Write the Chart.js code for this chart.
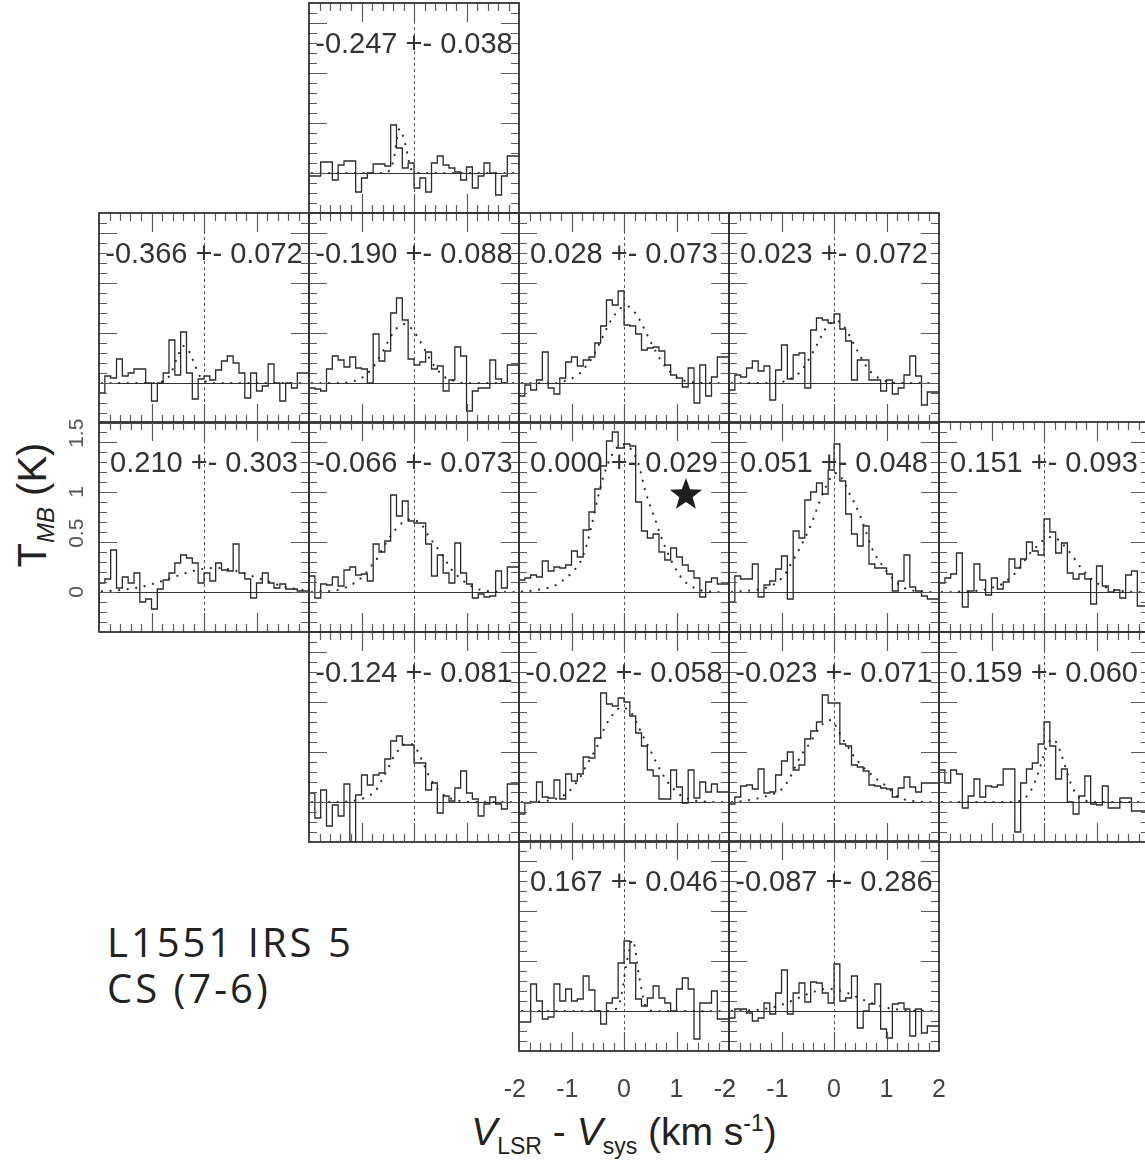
<!DOCTYPE html>
<html><head><meta charset="utf-8">
<script src="https://cdn.jsdelivr.net/npm/chart.js"></script>
<style>
html,body{margin:0;padding:0;background:#fff;}
body{width:1145px;height:1163px;overflow:hidden;position:relative;font-family:'Liberation Sans',Arial,sans-serif;}
canvas{position:absolute;}
.txt{position:absolute;white-space:nowrap;color:#222;}
.src{font-family:'Open Sans','Noto Sans',sans-serif;font-size:40px;line-height:40px;letter-spacing:3px;color:#222;font-weight:400;}
</style></head><body>
<div class="txt src" style="left:107px;top:922px">L1551 IRS 5</div>
<div class="txt src" style="left:107px;top:968px">CS (7-6)</div>
<div class="txt" id="xtitle" style="left:624px;top:1112px;transform:translateX(-50%);font-size:39px;line-height:39px;"><i>V</i><span style="font-size:23px;vertical-align:-9px;line-height:0">LSR</span> - <i>V</i><span style="font-size:23px;vertical-align:-9px;line-height:0">sys</span> (km s<span style="font-size:23px;vertical-align:14px;line-height:0">-1</span>)</div>
<div class="txt" id="ytitle" style="left:32px;top:505px;transform:translate(-50%,-50%) rotate(-90deg);font-size:40px;line-height:40px;">T<span style="font-size:24px;font-style:italic;vertical-align:-8px;line-height:0">MB</span> (K)</div>
<script>
// ---- channel velocities (km/s, channel centres) ----
const velocity = [-1.944,-1.833,-1.722,-1.611,-1.500,-1.389,-1.278,-1.167,-1.056,-0.944,-0.833,-0.722,-0.611,-0.500,-0.389,-0.278,-0.167,-0.056,0.056,0.167,0.278,0.389,0.500,0.611,0.722,0.833,0.944,1.056,1.167,1.278,1.389,1.500,1.611,1.722,1.833,1.944];
const chanWidth = 0.1111;

// ---- observed spectra (T_MB, K) and fitted profiles ----
const obsA = [-0.08,-0.03,-0.03,0.11,0.11,-0.07,0.08,0.12,0.12,-0.19,-0.05,0.00,0.09,0.09,0.07,0.48,0.25,0.05,0.10,-0.15,-0.05,-0.19,0.10,0.17,0.08,0.05,0.01,-0.07,0.06,-0.15,-0.03,0.10,0.00,-0.22,-0.03,0.17];
const fitA = [0,0,0,0,0,0,0,0,0,0,0,0,0,0.01,0.13,0.44,0.29,0.04,0.005,0,0,0,0,0,0,0,0,0,0,0,0,0,0,0,0,0];
const obsB = [0.10,-0.10,0.07,0.05,0.24,0.07,0.10,0.14,0.14,0.00,-0.18,0.00,0.10,0.43,0.08,0.51,0.10,-0.16,0.04,0.07,0.03,0.13,0.22,0.27,0.20,0.10,-0.15,0.10,-0.08,-0.03,0.19,0.00,-0.18,0.00,-0.05,0.10];
const fitB = [0,0,0,0,0,0,0,0,0,0,0.01,0.03,0.12,0.27,0.37,0.31,0.17,0.05,0.01,0,0,0,0,0,0,0,0,0,0,0,0,0,0,0,0,0];
const obsC = [-0.03,-0.05,-0.06,-0.08,0.14,0.27,0.23,0.16,0.26,0.15,0.14,0.00,0.49,0.22,0.32,0.70,0.85,0.63,0.24,0.18,0.21,0.31,0.14,0.17,-0.08,0.03,0.36,0.27,-0.28,-0.08,-0.05,-0.05,0.23,0.04,0.00,0.18];
const fitC = [0,0,0,0,0,0,0.005,0.015,0.035,0.07,0.125,0.20,0.30,0.41,0.51,0.57,0.59,0.55,0.47,0.37,0.26,0.17,0.10,0.05,0.03,0.01,0,0,0,0,0,0,0,0,0,0];
const obsD = [0.15,-0.13,-0.02,-0.07,0.03,0.31,-0.05,-0.11,0.05,0.21,0.26,0.17,0.23,0.26,0.40,0.57,0.83,0.78,0.92,0.58,0.57,0.49,0.33,0.35,0.36,0.32,0.18,0.08,0.05,-0.04,0.15,-0.20,0.18,-0.13,0.06,0.26];
const fitD = [0,0,0,0,0,0,0,0.015,0.03,0.06,0.10,0.17,0.25,0.36,0.48,0.60,0.69,0.75,0.77,0.73,0.65,0.54,0.42,0.31,0.21,0.14,0.08,0.045,0.02,0.01,0,0,0,0,0,0];
const obsE = [0.07,-0.07,0.08,0.06,0.15,0.22,0.12,0.17,-0.17,0.13,0.38,0.04,0.28,0.30,-0.05,0.53,0.65,0.63,0.60,0.69,0.54,0.42,0.03,0.23,0.23,0.03,0.03,-0.08,0.03,-0.11,-0.05,0.08,0.27,0.07,-0.22,-0.09];
const fitE = [0,0,0,0,0,0,0,0,0.007,0.017,0.04,0.074,0.13,0.22,0.32,0.43,0.54,0.60,0.62,0.58,0.49,0.38,0.27,0.17,0.10,0.055,0.027,0.01,0,0,0,0,0,0,0,0];
const obsF = [-0.31,0.09,0.13,0.42,0.04,0.15,0.09,0.19,-0.10,-0.07,-0.17,0.03,0.12,0.19,0.29,0.37,0.34,0.29,0.09,0.19,0.11,0.29,0.22,0.21,0.48,0.19,0.13,-0.06,0.09,0.19,0.09,0.04,0.08,0.03,0.03,0.01];
const fitF = [0.006,0.009,0.013,0.018,0.025,0.033,0.043,0.055,0.069,0.086,0.104,0.123,0.143,0.163,0.183,0.200,0.216,0.228,0.236,0.240,0.239,0.233,0.224,0.210,0.194,0.175,0.155,0.135,0.115,0.096,0.075,0.058,0.044,0.032,0.022,0.015];
const obsG = [0.28,0.16,-0.06,0.08,0.07,0.15,0.06,0.22,0.25,0.17,0.18,0.11,0.48,0.40,0.51,0.97,0.76,0.91,0.71,0.69,0.69,0.48,0.16,0.37,0.19,0.09,0.49,0.19,0.08,-0.06,-0.02,-0.05,-0.04,0.21,0.04,0.25];
const fitG = [0,0.005,0.01,0.01,0.015,0.03,0.05,0.08,0.12,0.17,0.25,0.32,0.42,0.52,0.60,0.67,0.71,0.73,0.71,0.66,0.56,0.48,0.40,0.31,0.22,0.16,0.11,0.07,0.04,0.02,0.01,0.005,0,0,0,0];
const obsH = [0.12,0.12,0.14,0.17,0.15,0.31,0.21,0.25,0.24,0.27,0.41,0.35,0.62,0.80,1.03,1.26,1.51,1.60,1.44,1.48,1.46,0.90,0.61,0.54,0.58,0.40,0.32,0.44,0.35,0.27,0.21,0.14,-0.05,0.10,0.14,0.08];
const fitH = [0.005,0.01,0.015,0.025,0.035,0.05,0.075,0.115,0.16,0.22,0.30,0.45,0.68,0.94,1.16,1.32,1.42,1.48,1.47,1.40,1.28,1.04,0.86,0.70,0.53,0.39,0.27,0.17,0.10,0.06,0.03,0.012,0.005,0,0,0];
const obsI = [0.19,-0.10,0.16,0.13,0.13,0.28,-0.05,0.07,0.11,0.23,0.36,-0.07,0.61,0.54,0.92,1.00,1.09,0.98,1.22,1.48,1.11,0.78,0.58,0.46,0.66,0.28,0.24,0.24,0.18,0.01,0.11,0.37,0.05,0.01,-0.04,-0.07];
const fitI = [0,0.005,0.01,0.015,0.02,0.03,0.045,0.07,0.11,0.17,0.27,0.37,0.48,0.60,0.74,0.90,1.04,1.15,1.19,1.12,1.00,0.89,0.76,0.60,0.44,0.33,0.25,0.17,0.11,0.055,0.03,0.015,0.008,0.005,0,0];
const obsJ = [-0.07,0.09,0.14,0.18,0.39,-0.15,0.01,0.28,0.12,-0.03,0.14,0.03,0.10,0.33,0.24,0.33,0.50,0.41,0.37,0.73,0.60,0.39,0.49,0.19,0.13,0.18,0.13,-0.12,0.26,0.06,0.00,0.02,-0.06,0.17,0.21,-0.14];
const fitJ = [0,0,0,0.005,0.005,0.008,0.012,0.02,0.03,0.05,0.07,0.11,0.155,0.22,0.30,0.38,0.44,0.50,0.54,0.55,0.52,0.46,0.39,0.31,0.23,0.17,0.11,0.075,0.05,0.03,0.015,0.008,0.003,0,0,0];
const obsK = [0.27,0.09,-0.16,0.12,-0.24,-0.03,-0.14,0.18,-0.45,0.07,0.27,0.17,0.27,0.29,0.43,0.61,0.66,0.57,0.57,0.39,0.39,0.12,0.19,-0.11,0.06,0.01,0.14,0.31,0.09,0.03,-0.14,-0.02,0.05,-0.02,-0.07,0.18];
const fitK = [0,0,0,0,0,0,0.005,0.01,0.025,0.04,0.07,0.12,0.22,0.33,0.45,0.53,0.58,0.58,0.52,0.40,0.27,0.17,0.10,0.055,0.03,0.015,0.005,0,0,0,0,0,0,0,0,0];
const obsL = [0.09,-0.12,-0.01,0.00,0.20,0.05,0.04,0.22,0.03,0.28,0.21,0.28,0.45,0.44,0.64,1.09,0.98,0.96,1.04,1.00,0.86,0.69,0.56,0.32,0.26,0.03,0.03,0.32,0.15,-0.01,0.32,0.04,0.20,0.10,0.18,0.10];
const fitL = [0,0,0.003,0.005,0.01,0.02,0.035,0.06,0.10,0.17,0.25,0.36,0.46,0.57,0.72,0.83,0.90,0.95,0.93,0.87,0.75,0.63,0.52,0.40,0.29,0.20,0.13,0.075,0.045,0.02,0.01,0.005,0,0,0,0];
const obsM = [-0.02,-0.02,0.05,0.16,0.17,0.13,0.33,0.09,0.10,0.27,0.41,0.50,0.32,0.37,0.63,0.71,0.80,1.07,0.99,0.99,0.58,0.56,0.37,0.35,0.31,0.17,0.16,0.14,0.13,0.05,0.14,0.25,0.15,0.10,0.19,0.19];
const fitM = [0,0.005,0.01,0.02,0.03,0.045,0.06,0.08,0.10,0.16,0.25,0.37,0.48,0.56,0.65,0.74,0.80,0.82,0.74,0.63,0.54,0.45,0.38,0.32,0.27,0.22,0.18,0.13,0.07,0.035,0.02,0.01,0.005,0,0,0];
const obsN = [0.13,0.32,0.19,0.32,0.28,-0.06,0.06,0.23,0.05,0.16,0.15,0.17,0.33,0.33,-0.30,0.19,0.33,0.39,0.58,0.80,0.56,0.23,0.33,0.00,-0.12,0.06,0.26,-0.02,-0.03,0.16,-0.06,-0.06,0.04,0.04,-0.09,-0.09];
const fitN = [0,0,0,0,0,0,0,0,0,0,0,0,0,0.006,0.03,0.09,0.21,0.38,0.56,0.63,0.55,0.38,0.20,0.08,0.025,0.008,0,0,0,0,0,0,0,0,0,0];
const obsO = [0.12,-0.11,-0.11,0.27,0.10,-0.08,-0.06,0.27,0.10,0.22,0.10,0.12,0.35,0.21,0.00,-0.13,0.08,0.13,0.48,0.70,0.48,0.12,0.05,0.13,0.25,0.13,0.08,0.00,0.22,0.33,0.22,-0.28,0.08,0.08,0.20,-0.08];
const fitO = [0,0,0,0,0,0,0,0,0,0,0,0,0,0,0,0,0.015,0.14,0.50,0.71,0.38,0.08,0.006,0,0,0,0,0,0,0,0,0,0,0,0,0];
const obsP = [-0.18,-0.07,0.02,0.02,-0.02,-0.10,-0.07,0.08,-0.03,0.18,0.41,-0.03,0.18,0.28,0.09,0.29,0.28,0.18,0.08,0.47,0.10,0.13,0.35,-0.17,0.00,0.07,0.27,-0.18,-0.27,0.07,0.08,0.02,-0.25,0.02,-0.22,-0.15];
const fitP = [0.001,0.002,0.004,0.006,0.01,0.016,0.025,0.037,0.053,0.072,0.095,0.12,0.146,0.17,0.19,0.21,0.22,0.22,0.21,0.197,0.176,0.15,0.126,0.10,0.076,0.056,0.04,0.027,0.018,0.011,0.006,0.004,0.002,0.001,0,0];

// ---- panel annotation texts (fitted centroid velocity +- error) ----
const panelIds    = ['A','B','C','D','E','F','G','H','I','J','K','L','M','N','O','P'];
const panelLabels = ['-0.247 +- 0.038','-0.366 +- 0.072','-0.190 +- 0.088','0.028 +- 0.073','0.023 +- 0.072',
                     '0.210 +- 0.303','-0.066 +- 0.073','0.000 +- 0.029','0.051 +- 0.048','0.151 +- 0.093',
                     '-0.124 +- 0.081','-0.022 +- 0.058','-0.023 +- 0.071','0.159 +- 0.060',
                     '0.167 +- 0.046','-0.087 +- 0.286'];
const obsSeries = {A:obsA,B:obsB,C:obsC,D:obsD,E:obsE,F:obsF,G:obsG,H:obsH,I:obsI,J:obsJ,K:obsK,L:obsL,M:obsM,N:obsN,O:obsO,P:obsP};
const fitSeries = {A:fitA,B:fitB,C:fitC,D:fitD,E:fitE,F:fitF,G:fitG,H:fitH,I:fitI,J:fitJ,K:fitK,L:fitL,M:fitM,N:fitN,O:fitO,P:fitP};

// ---- tick labels ----
const xTickLabels = [-2,-1,0,1,2];
const yTickLabels = ['0','0.5','1','1.5'];
const starPosition = {v:1.18, t:0.97};

// ---- layout (not data) ----
const layoutGrid = {A:[0,1],B:[1,0],C:[1,1],D:[1,2],E:[1,3],F:[2,0],G:[2,1],H:[2,2],I:[2,3],J:[2,4],K:[3,1],L:[3,2],M:[3,3],N:[3,4],O:[4,2],P:[4,3]};
const colLeft = [99,309,519,729,939];
const rowTop = [3,213,422,632,841];
const PW = 210, PH = 210, MARGIN = 6;
const INK = '#2b2b2b';

const decor = {
  id:'decor',
  beforeDatasetsDraw(chart, args, o){
    const {ctx, chartArea:a, scales:{x,y}} = chart;
    ctx.save();
    ctx.strokeStyle = '#555'; ctx.lineWidth = 1; ctx.setLineDash([3,3]);
    const x0 = Math.round(x.getPixelForValue(0))+0.5;
    ctx.beginPath(); ctx.moveTo(x0,a.top); ctx.lineTo(x0,a.bottom); ctx.stroke();
    ctx.setLineDash([]);
    ctx.strokeStyle = '#333';
    const y0 = Math.round(y.getPixelForValue(0))+0.5;
    ctx.beginPath(); ctx.moveTo(a.left,y0); ctx.lineTo(a.right,y0); ctx.stroke();
    ctx.fillStyle = '#333';
    ctx.font = '29px "Liberation Sans", Arial, sans-serif';
    ctx.textAlign = 'center'; ctx.textBaseline = 'alphabetic';
    ctx.fillText(o.label, (a.left+a.right)/2, a.top+50);
    ctx.restore();
  },
  afterDatasetsDraw(chart, args, o){
    const {ctx, chartArea:a, scales:{x,y}} = chart;
    ctx.save();
    ctx.strokeStyle = '#5a5a5a'; ctx.lineWidth = 1.2;
    ctx.beginPath();
    for (let k=-9;k<=9;k++){
      const px = Math.round(x.getPixelForValue(k*0.2))+0.5;
      const L = (k%5===0)?19:8;
      ctx.moveTo(px,a.top); ctx.lineTo(px,a.top+L);
      ctx.moveTo(px,a.bottom); ctx.lineTo(px,a.bottom-L);
    }
    for (let k=-3;k<=16;k++){
      const py = Math.round(y.getPixelForValue(k*0.1))+0.5;
      const L = (k%5===0)?18:8;
      ctx.moveTo(a.left,py); ctx.lineTo(a.left+L,py);
      ctx.moveTo(a.right,py); ctx.lineTo(a.right-L,py);
    }
    ctx.stroke();
    ctx.strokeStyle = '#333'; ctx.lineWidth = 1.8;
    ctx.strokeRect(a.left, a.top, a.right-a.left, a.bottom-a.top);
    if (o.star){
      const cx = x.getPixelForValue(starPosition.v), cy = y.getPixelForValue(starPosition.t);
      const R = 17, r = 7;
      ctx.beginPath();
      for (let i=0;i<10;i++){
        const ang = -Math.PI/2 + i*Math.PI/5;
        const rr = (i%2===0)?R:r;
        const px = cx + rr*Math.cos(ang), py = cy + rr*Math.sin(ang);
        if (i===0) ctx.moveTo(px,py); else ctx.lineTo(px,py);
      }
      ctx.closePath(); ctx.fillStyle = '#1e1e1e'; ctx.fill();
    }
    if (o.xLabels){
      ctx.fillStyle = '#444';
      ctx.font = '25px "Liberation Sans", Arial, sans-serif';
      ctx.textAlign = 'left'; ctx.textBaseline = 'alphabetic';
      xTickLabels.forEach(v=>{
        const s = String(v);
        const digits = s.replace('-','');
        const minusW = s.startsWith('-') ? ctx.measureText('-').width : 0;
        const dW = ctx.measureText(digits).width;
        const px = x.getPixelForValue(v);
        ctx.fillText(s, px - dW/2 - minusW, a.bottom + 46);
      });
    }
    if (o.yLabels){
      ctx.fillStyle = '#555';
      ctx.font = '21px "Liberation Sans", Arial, sans-serif';
      ctx.textAlign = 'left'; ctx.textBaseline = 'alphabetic';
      yTickLabels.forEach(s=>{
        const py = y.getPixelForValue(parseFloat(s));
        const firstW = ctx.measureText(s.charAt(0)).width;
        ctx.save();
        ctx.translate(a.left - 16, py);
        ctx.rotate(-Math.PI/2);
        ctx.fillText(s, -firstW/2, 0);
        ctx.restore();
      });
    }
    ctx.restore();
  }
};

function buildPanel(id, label){
  const [r,c] = layoutGrid[id];
  const left = colLeft[c], top = rowTop[r];
  const pad = {left:MARGIN, right:MARGIN, top:MARGIN, bottom:MARGIN};
  const yLabels = (id==='F'), xLabels = (id==='O' || id==='P');
  if (yLabels) pad.left = left;
  if (xLabels) { pad.bottom = 70; pad.left = 30; pad.right = 30; }
  const cw = PW + pad.left + pad.right, ch = PH + pad.top + pad.bottom;
  const cv = document.createElement('canvas');
  cv.width = cw; cv.height = ch;
  cv.style.width = cw+'px'; cv.style.height = ch+'px';
  cv.style.left = (left - pad.left)+'px'; cv.style.top = (top - pad.top)+'px';
  document.body.appendChild(cv);
  const obs = obsSeries[id], fit = fitSeries[id];
  const hist = obs.map((t,i)=>({x: velocity[i]-chanWidth/2, y: t}));
  hist.push({x: velocity[velocity.length-1]+chanWidth/2, y: obs[obs.length-1]});
  const fitPts = fit.map((t,i)=>({x: velocity[i], y: t}));
  new Chart(cv, {
    type:'line',
    data:{datasets:[
      {data:hist, stepped:'after', borderColor:INK, borderWidth:1.3, pointRadius:0, fill:false},
      {data:fitPts, borderColor:INK, borderWidth:2.2, borderDash:[0.1,8.5], borderCapStyle:'round',
       cubicInterpolationMode:'monotone', pointRadius:0, fill:false}
    ]},
    options:{
      responsive:false, animation:false, devicePixelRatio:1, events:[],
      layout:{padding:pad},
      scales:{
        x:{type:'linear', min:-2, max:2, display:false},
        y:{type:'linear', min:-0.40, max:1.70, display:false}
      },
      plugins:{legend:{display:false}, tooltip:{enabled:false},
        decor:{label:label, star:(id==='H'), xLabels:xLabels, yLabels:yLabels}}
    },
    plugins:[decor]
  });
}
panelIds.forEach((id,i)=>buildPanel(id, panelLabels[i]));
</script>
</body></html>
